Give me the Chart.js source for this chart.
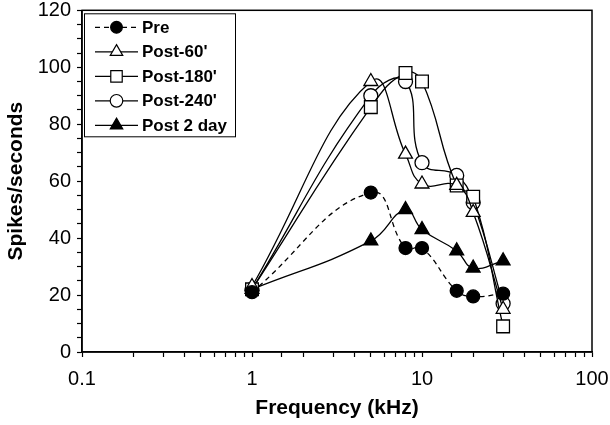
<!DOCTYPE html>
<html>
<head>
<meta charset="utf-8">
<script src="https://cdn.jsdelivr.net/npm/chart.js@4/dist/chart.umd.min.js"></script>
<style>
  html, body { margin: 0; padding: 0; background: #fff; }
  canvas { display: block; }
</style>
</head>
<body>
<canvas id="c" width="610" height="425"></canvas>
<script>
// ---- data ----
const frequencies = [1, 5, 8, 10, 16, 20, 30];
const pre      = [21, 56, 36.5, 36.5, 21.5, 19.5, 20.5];
const post60   = [23, 95, 69.5, 59, 58.5, 49, 15];
const post180  = [22, 86, 98, 95, 58.5, 54.5, 9];
const post240  = [22, 90, 95, 66.5, 62, 52.5, 17];
const post2day = [22, 39, 50, 43, 35.5, 29.5, 32];
const seriesNames = ["Pre", "Post-60'", "Post-180'", "Post-240'", "Post 2 day"];
const xTickLabels = ["0.1", "1", "10", "100"];
const yTickLabels = [0, 20, 40, 60, 80, 100, 120];

const FONT = "'Liberation Sans', Arial, Helvetica, sans-serif";

function pts(vals) { return frequencies.map((f, i) => ({ x: f, y: vals[i] })); }

const styles = [
  { pointStyle: 'circle',   radius: 6.5, fill: '#000', dash: [5, 4] },
  { pointStyle: 'triangle', radius: 8,   fill: '#fff', dash: [] },
  { pointStyle: 'rect',     radius: 9,   fill: '#fff', dash: [] },
  { pointStyle: 'circle',   radius: 7,   fill: '#fff', dash: [] },
  { pointStyle: 'triangle', radius: 8,   fill: '#000', dash: [] },
];
const allValues = [pre, post60, post180, post240, post2day];

const datasets = allValues.map((vals, i) => ({
  label: seriesNames[i],
  data: pts(vals),
  borderColor: '#000',
  borderWidth: 1.3,
  borderDash: styles[i].dash,
  backgroundColor: styles[i].fill,
  pointStyle: styles[i].pointStyle,
  pointRadius: styles[i].radius,
  pointBackgroundColor: styles[i].fill,
  pointBorderColor: '#000',
  pointBorderWidth: 1.3,
  tension: 0.45,
  fill: false,
}));

const framePlugin = {
  id: 'frame',
  beforeDatasetsDraw(chart) {
    const a = chart.chartArea, ctx = chart.ctx;
    ctx.save();
    ctx.strokeStyle = '#000';
    ctx.lineWidth = 1.5;
    ctx.strokeRect(a.left, a.top, a.right - a.left, a.bottom - a.top);
    ctx.restore();
  }
};

const legendPlugin = {
  id: 'boxLegend',
  afterDatasetsDraw(chart) {
    const ctx = chart.ctx;
    const a = chart.chartArea;
    const bx = a.left + 2, by = a.top + 3, bw = 151, bh = 123;
    ctx.save();
    ctx.fillStyle = '#fff';
    ctx.fillRect(bx, by, bw, bh);
    ctx.strokeStyle = '#000';
    ctx.lineWidth = 1;
    ctx.strokeRect(bx + 0.5, by + 0.5, bw, bh);
    chart.data.datasets.forEach((ds, i) => {
      const y = by + 14 + i * 24.5;
      const x0 = bx + 11, x1 = bx + 54, xm = (x0 + x1) / 2;
      ctx.strokeStyle = '#000';
      ctx.lineWidth = 1.2;
      ctx.setLineDash(ds.borderDash || []);
      ctx.beginPath(); ctx.moveTo(x0, y); ctx.lineTo(x1, y); ctx.stroke();
      ctx.setLineDash([]);
      ctx.fillStyle = ds.pointBackgroundColor;
      ctx.strokeStyle = '#000';
      ctx.lineWidth = 1.2;
      Chart.helpers.drawPoint(ctx, { pointStyle: ds.pointStyle, radius: ds.pointRadius * 0.9, rotation: 0, borderWidth: 1.2 }, xm, y);
      ctx.fillStyle = '#000';
      ctx.font = 'bold 17px ' + FONT;
      ctx.textBaseline = 'middle';
      ctx.textAlign = 'left';
      ctx.fillText(ds.label, bx + 58, y + 1);
    });
    ctx.restore();
  }
};

new Chart(document.getElementById('c'), {
  type: 'line',
  data: { datasets },
  options: {
    responsive: false,
    animation: false,
    devicePixelRatio: 1,
    layout: { padding: { top: 10, right: 18, left: 0, bottom: 0 } },
    plugins: { legend: { display: false }, tooltip: { enabled: false } },
    scales: {
      x: {
        type: 'logarithmic',
        min: 0.1, max: 100,
        afterFit(s) { s.height = 73; s.paddingLeft = 0; s.paddingRight = 0; },
        ticks: {
          autoSkip: false, maxRotation: 0, padding: 10,
          color: '#000', font: { family: FONT, size: 20 },
          callback(v) {
            const l = Math.log10(v);
            if (Math.abs(l - Math.round(l)) < 1e-6) {
              return xTickLabels[Math.round(l) + 1];
            }
            return '';
          }
        },
        grid: { drawOnChartArea: false, tickLength: 5, color: '#000', tickWidth: 1.2 },
        border: { color: '#000', width: 1.5 },
        title: { display: true, text: 'Frequency (kHz)', color: '#000', font: { family: FONT, size: 21, weight: 'bold' }, padding: { top: 0, bottom: 4 } }
      },
      y: {
        min: 0, max: 120,
        afterFit(s) { s.width = 82; s.paddingTop = 0; s.paddingBottom = 0; },
        ticks: {
          stepSize: 5, autoSkip: false, padding: 6,
          color: '#000', font: { family: FONT, size: 20 },
          callback(v) { return yTickLabels.includes(v) ? String(v) : ''; }
        },
        grid: { drawOnChartArea: false, tickLength: 5, color: '#000', tickWidth: 1.2 },
        border: { color: '#000', width: 1.5 },
        title: { display: true, text: 'Spikes/seconds', color: '#000', font: { family: FONT, size: 21, weight: 'bold' }, padding: { top: 4, bottom: 0 } }
      }
    }
  },
  plugins: [framePlugin, legendPlugin]
});
</script>
</body>
</html>
